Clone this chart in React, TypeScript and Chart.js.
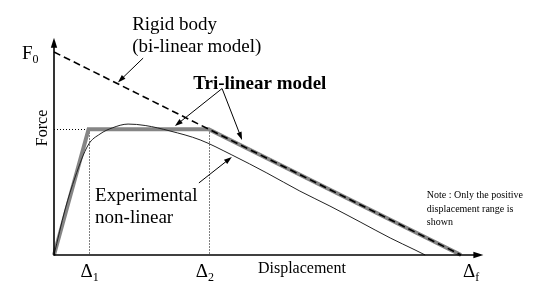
import React, { useEffect, useRef } from "react";
import { Chart, registerables } from "chart.js";

Chart.register(...registerables);

// ---- data (normalised units: displacement, force) ----
const F0 = 1.0;
const DELTA_1 = 0.85;
const DELTA_2 = 3.8;
const DELTA_F = 10;
const PLATEAU = 0.62;

const rigidDisp = [0, DELTA_F];
const rigidForce = [F0, 0];

const triDisp = [0, DELTA_1, DELTA_2, DELTA_F];
const triForce = [0, PLATEAU, PLATEAU, 0];

const expDisp = [0, 0.27, 0.52, 0.84, 1.13, 1.43, 1.82, 2.24, 2.85, 3.59, 4.37, 5.23, 6.04, 6.78, 7.52, 8.26, 8.87, 9.12];
const expForce = [0, 0.222, 0.384, 0.542, 0.596, 0.626, 0.645, 0.638, 0.611, 0.567, 0.493, 0.404, 0.315, 0.241, 0.163, 0.084, 0.025, 0];

const tickValues = [DELTA_1, DELTA_2, DELTA_F];
const tickMain = ["Δ", "Δ", "Δ"];
const tickSub = ["1", "2", "f"];

const X_MAX_AXIS = 10.55;
const Y_MAX_AXIS = 1.07;

const SERIF = '"Liberation Serif", "Times New Roman", serif';

const toXY = (xs: number[], ys: number[]) => xs.map((x, i) => ({ x, y: ys[i] }));

function arrow(ctx: CanvasRenderingContext2D, x1: number, y1: number, x2: number, y2: number, head = 8, w = 2.6) {
  const a = Math.atan2(y2 - y1, x2 - x1);
  ctx.beginPath();
  ctx.moveTo(x1, y1);
  ctx.lineTo(x2 - (head - 1) * Math.cos(a), y2 - (head - 1) * Math.sin(a));
  ctx.stroke();
  ctx.beginPath();
  ctx.moveTo(x2, y2);
  ctx.lineTo(x2 - head * Math.cos(a) + w * Math.sin(a), y2 - head * Math.sin(a) - w * Math.cos(a));
  ctx.lineTo(x2 - head * Math.cos(a) - w * Math.sin(a), y2 - head * Math.sin(a) + w * Math.cos(a));
  ctx.closePath();
  ctx.fill();
}

const underlay = {
  id: "underlay",
  beforeDatasetsDraw(chart: any) {
    const { ctx, scales } = chart;
    const X = (v: number) => scales.x.getPixelForValue(v);
    const Y = (v: number) => scales.y.getPixelForValue(v);
    ctx.save();
    ctx.fillStyle = "#fff";
    ctx.fillRect(0, 0, chart.width, chart.height);
    // dotted guide lines
    ctx.strokeStyle = "#000";
    ctx.lineWidth = 1;
    ctx.setLineDash([1, 2]);
    ctx.beginPath();
    const py = Math.round(Y(PLATEAU)) + 0.5;
    ctx.moveTo(X(0), py);
    ctx.lineTo(X(DELTA_1), py);
    ctx.moveTo(Math.round(X(DELTA_1)) + 0.5, py);
    ctx.lineTo(Math.round(X(DELTA_1)) + 0.5, Y(0));
    ctx.moveTo(Math.round(X(DELTA_2)) + 0.5, py);
    ctx.lineTo(Math.round(X(DELTA_2)) + 0.5, Y(0));
    ctx.stroke();
    ctx.restore();
  },
};

const overlay = {
  id: "overlay",
  afterDatasetsDraw(chart: any) {
    const { ctx, scales } = chart;
    const X = (v: number) => scales.x.getPixelForValue(v);
    const Y = (v: number) => scales.y.getPixelForValue(v);
    const ox = X(0);
    const oy = Y(0);
    ctx.save();
    ctx.strokeStyle = "#000";
    ctx.fillStyle = "#000";
    ctx.setLineDash([]);

    // axes with arrows
    ctx.lineWidth = 1.6;
    arrow(ctx, ox, oy, X(X_MAX_AXIS), oy, 10, 3.2);
    arrow(ctx, ox, oy + 0.8, ox, Y(Y_MAX_AXIS), 10, 3.2);

    // annotation arrows
    ctx.lineWidth = 1;
    arrow(ctx, X(2.19), Y(0.97), X(1.57), Y(0.85));
    arrow(ctx, X(4.13), Y(0.82), X(2.97), Y(0.635));
    arrow(ctx, X(4.13), Y(0.82), X(4.62), Y(0.567));
    arrow(ctx, X(3.56), Y(0.355), X(4.37), Y(0.483));

    // texts
    ctx.textBaseline = "alphabetic";
    ctx.textAlign = "left";
    ctx.font = `19px ${SERIF}`;
    ctx.fillText("Rigid body", X(1.92), Y(1.108));
    ctx.fillText("(bi-linear model)", X(1.92), Y(1.0));
    ctx.fillText("Experimental", X(1.01), Y(0.266));
    ctx.fillText("non-linear", X(1.01), Y(0.158));
    ctx.font = `bold 19px ${SERIF}`;
    ctx.fillText("Tri-linear model", X(3.42), Y(0.818));

    ctx.font = `10px ${SERIF}`;
    ctx.fillText("Note : Only the positive", X(9.16), Y(0.281));
    ctx.fillText("displacement range is", X(9.16), Y(0.212));
    ctx.fillText("shown", X(9.16), Y(0.148));

    // axis titles
    ctx.font = `16px ${SERIF}`;
    ctx.fillText("Displacement", X(5.01), oy + 18);
    ctx.save();
    ctx.translate(ox - 7, Y(0.626));
    ctx.rotate(-Math.PI / 2);
    ctx.textAlign = "center";
    ctx.fillText("Force", 0, 0);
    ctx.restore();

    // F0 label
    ctx.font = `19px ${SERIF}`;
    const fx = ox - 32;
    const fy = Y(F0) + 7;
    ctx.fillText("F", fx, fy);
    const fw = ctx.measureText("F").width;
    ctx.font = `12px ${SERIF}`;
    ctx.fillText("0", fx + fw, fy + 4);

    // delta tick labels
    const offs = [-8, -13, 2];
    tickValues.forEach((v, i) => {
      const lx = X(v) + offs[i];
      const ly = oy + 22;
      ctx.font = `19px ${SERIF}`;
      ctx.fillText(tickMain[i], lx, ly);
      const w = ctx.measureText(tickMain[i]).width;
      ctx.font = `12px ${SERIF}`;
      ctx.fillText(tickSub[i], lx + w, ly + 4);
    });
    ctx.restore();
  },
};

export default function App() {
  const ref = useRef<HTMLCanvasElement | null>(null);
  useEffect(() => {
    if (!ref.current) return;
    const xPer = 40.7;
    const yPer = 203;
    const originX = 54;
    const originY = 255;
    const chart = new Chart(ref.current, {
      type: "scatter",
      data: {
        datasets: [
          {
            label: "Rigid body (bi-linear model)",
            data: toXY(rigidDisp, rigidForce),
            showLine: true,
            borderColor: "#000",
            borderWidth: 1.6,
            borderDash: [7, 4],
            pointRadius: 0,
            order: 0,
          },
          {
            label: "Experimental non-linear",
            data: toXY(expDisp, expForce),
            showLine: true,
            borderColor: "#222",
            borderWidth: 1,
            pointRadius: 0,
            cubicInterpolationMode: "monotone",
            order: 1,
          },
          {
            label: "Tri-linear model",
            data: toXY(triDisp, triForce),
            showLine: true,
            borderColor: "#858585",
            borderWidth: 4,
            pointRadius: 0,
            borderJoinStyle: "miter",
            order: 2,
          },
        ],
      },
      options: {
        animation: false,
        responsive: false,
        devicePixelRatio: 1,
        layout: { padding: 0 },
        plugins: { legend: { display: false }, tooltip: { enabled: false } },
        scales: {
          x: { type: "linear", display: false, min: -originX / xPer, max: (543 - originX) / xPer },
          y: { type: "linear", display: false, min: -(294 - originY) / yPer, max: originY / yPer },
        },
      },
      plugins: [underlay, overlay],
    } as any);
    return () => chart.destroy();
  }, []);
  return (
    <div style={{ position: "fixed", left: 0, top: 0, width: 543, height: 294, background: "#fff" }}>
      <canvas ref={ref} width={543} height={294} style={{ display: "block" }} />
    </div>
  );
}
